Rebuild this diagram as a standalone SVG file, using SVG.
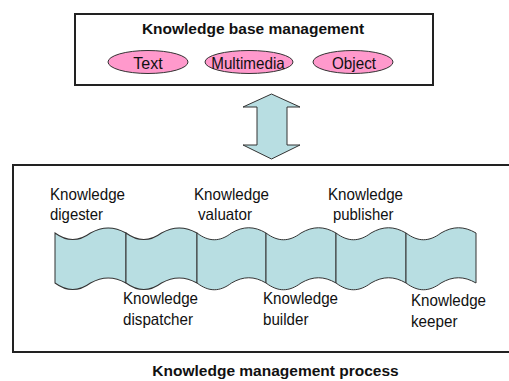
<svg xmlns="http://www.w3.org/2000/svg" width="509" height="381" viewBox="0 0 509 381">
  <style>
    .frame { fill: #ffffff; stroke: #222222; stroke-width: 2; }
    .kb { fill: #ff99cc; stroke: #333333; stroke-width: 1; }
    .tape { fill: #b8dee2; stroke: #333333; stroke-width: 1; }
    .title { font-family: "Liberation Sans", Arial, sans-serif; font-weight: bold; font-size: 15.5px; fill: #111111; text-anchor: middle; }
    .lbl { font-family: "Liberation Sans", Arial, sans-serif; font-size: 16.5px; fill: #111111; }
    .kbt { font-family: "Liberation Sans", Arial, sans-serif; font-size: 16.5px; fill: #111111; text-anchor: middle; }
  </style>
  <defs>
    <!-- one punched-tape segment, 70 wide, left edge at x=0 -->
    <path id="seg" class="tape" d="M0,233 C12,242 23,242 35,233 C47,226 58,226 70,233 L70,283 C58,276 47,276 35,283 C23,292 12,292 0,283 Z"/>
  </defs>

  <rect width="509" height="381" fill="#ffffff"/>

  <!-- knowledge base management -->
  <g id="kb-management">
    <rect class="frame" x="75" y="14" width="358" height="71"/>
    <text class="title" x="253" y="34">Knowledge base management</text>
    <g id="kb-text">
      <ellipse class="kb" cx="148" cy="62" rx="40" ry="11.5"/>
      <text class="kbt" x="148" y="68.5" textLength="29.5" lengthAdjust="spacingAndGlyphs">Text</text>
    </g>
    <g id="kb-multimedia">
      <ellipse class="kb" cx="249" cy="62" rx="44" ry="11.5"/>
      <text class="kbt" x="248" y="68.5" textLength="73.5" lengthAdjust="spacingAndGlyphs">Multimedia</text>
    </g>
    <g id="kb-object">
      <ellipse class="kb" cx="353" cy="62" rx="40" ry="11.5"/>
      <text class="kbt" x="354" y="68.5" textLength="44" lengthAdjust="spacingAndGlyphs">Object</text>
    </g>
  </g>

  <!-- two-way link between the two levels -->
  <g id="connectors">
    <path class="tape" d="M271.5,94 L300,107 L287,107 L287,145 L300,145 L271.5,159 L243,145 L257,145 L257,107 L243,107 Z"/>
  </g>

  <!-- knowledge management process -->
  <g id="km-process">
    <rect class="frame" x="13" y="165" width="520" height="187"/>
    <text class="title" x="275.5" y="376">Knowledge management process</text>
  </g>

  <g id="digester">
    <use href="#seg" transform="translate(55,0) scale(1.014,1)"/>
    <text class="lbl" x="50" y="199.5" textLength="75" lengthAdjust="spacingAndGlyphs">Knowledge</text>
    <text class="lbl" x="50" y="219.5" textLength="53" lengthAdjust="spacingAndGlyphs">digester</text>
  </g>
  <g id="dispatcher">
    <use href="#seg" transform="translate(126,0) scale(1.014,1)"/>
    <text class="lbl" x="123" y="304" textLength="75" lengthAdjust="spacingAndGlyphs">Knowledge</text>
    <text class="lbl" x="123" y="325" textLength="70" lengthAdjust="spacingAndGlyphs">dispatcher</text>
  </g>
  <g id="valuator">
    <use href="#seg" transform="translate(197,0) scale(0.986,1)"/>
    <text class="lbl" x="194" y="199.5" textLength="75" lengthAdjust="spacingAndGlyphs">Knowledge</text>
    <text class="lbl" x="198" y="219.5" textLength="54" lengthAdjust="spacingAndGlyphs">valuator</text>
  </g>
  <g id="builder">
    <use href="#seg" transform="translate(266,0)"/>
    <text class="lbl" x="263" y="304" textLength="75" lengthAdjust="spacingAndGlyphs">Knowledge</text>
    <text class="lbl" x="263" y="325" textLength="45.5" lengthAdjust="spacingAndGlyphs">builder</text>
  </g>
  <g id="publisher">
    <use href="#seg" transform="translate(336,0)"/>
    <text class="lbl" x="328" y="199.5" textLength="75" lengthAdjust="spacingAndGlyphs">Knowledge</text>
    <text class="lbl" x="333" y="219.5" textLength="60.5" lengthAdjust="spacingAndGlyphs">publisher</text>
  </g>
  <g id="keeper">
    <use href="#seg" transform="translate(406,0)"/>
    <text class="lbl" x="411" y="306" textLength="75" lengthAdjust="spacingAndGlyphs">Knowledge</text>
    <text class="lbl" x="411" y="327" textLength="46.5" lengthAdjust="spacingAndGlyphs">keeper</text>
  </g>
</svg>
